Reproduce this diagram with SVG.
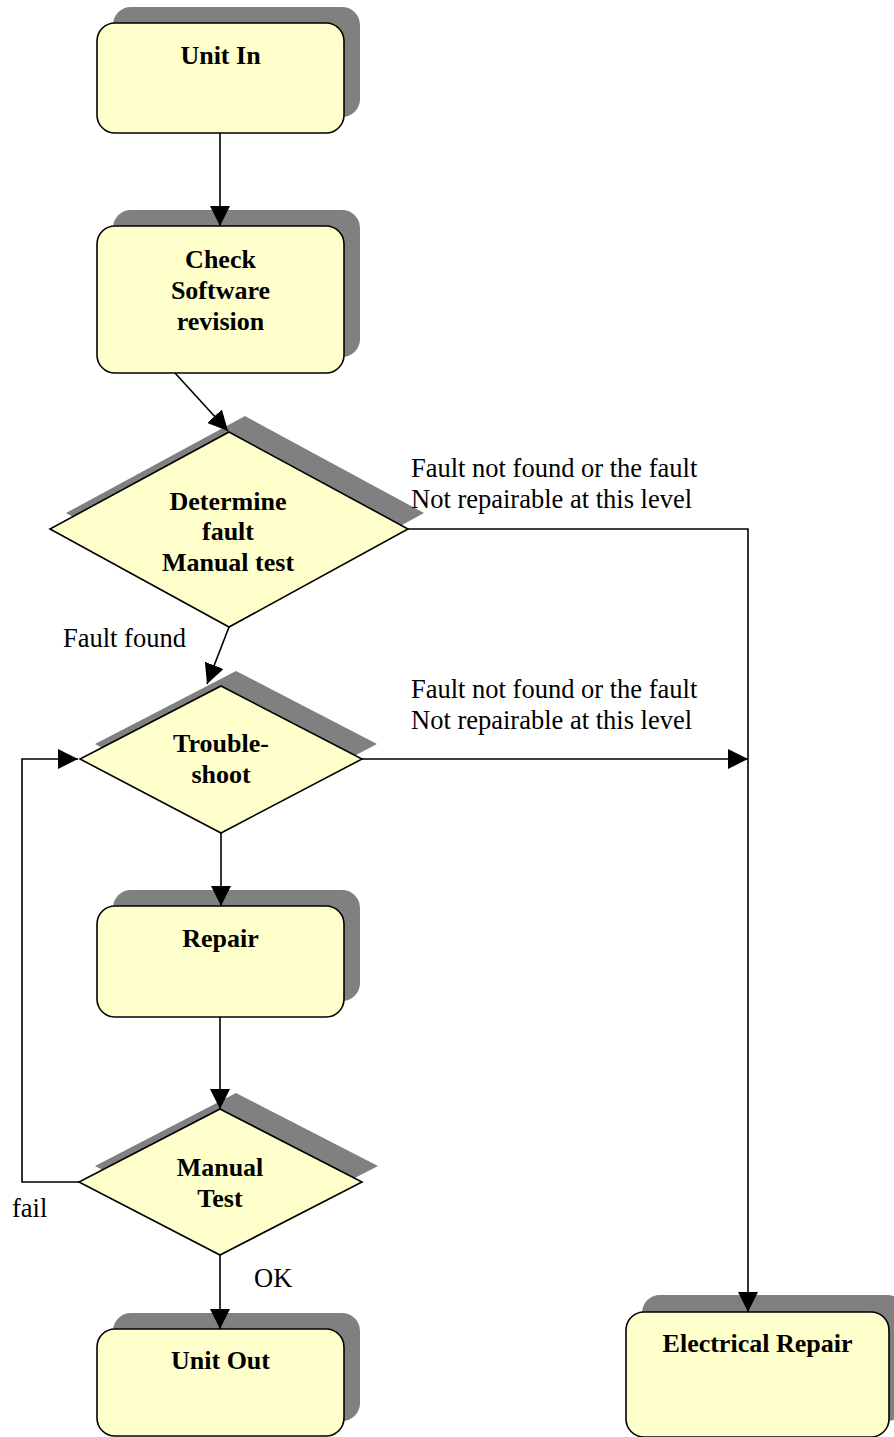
<svg xmlns="http://www.w3.org/2000/svg" width="894" height="1437" viewBox="0 0 894 1437">
<style>
.sh{fill:#808080;stroke:none}
.nd{fill:#FFFFCC;stroke:#000;stroke-width:1.6}
.lb{font-family:"Liberation Serif","Times New Roman",serif;font-weight:bold;font-size:26px;fill:#000;text-anchor:middle}
.tx{font-family:"Liberation Serif","Times New Roman",serif;font-size:26.5px;fill:#000}
.cn{fill:none;stroke:#000;stroke-width:1.6;marker-end:url(#ah)}
</style>
<defs>
<marker id="ah" markerUnits="userSpaceOnUse" markerWidth="20" markerHeight="20" refX="20" refY="10" orient="auto">
<path d="M0,0 L20,10 L0,20 z" fill="#000"/>
</marker>
</defs>
<rect width="894" height="1437" fill="#fff"/>

<g id="unit-in">
<rect class="sh" x="113" y="7" width="247" height="110" rx="18"/>
<rect class="nd" x="97" y="23" width="247" height="110" rx="18"/>
<text class="lb" x="220.5" y="64">Unit In</text>
</g>

<g id="check-software">
<rect class="sh" x="113" y="210" width="247" height="147" rx="18"/>
<rect class="nd" x="97" y="226" width="247" height="147" rx="18"/>
<text class="lb" x="220.5" y="268">Check</text>
<text class="lb" x="220.5" y="299">Software</text>
<text class="lb" x="220.5" y="330">revision</text>
</g>

<g id="determine-fault">
<polygon class="sh" points="245,416 424,513 245,611 66,513"/>
<polygon class="nd" points="229,432 408,529 229,627 50,529"/>
<text class="lb" x="228" y="510">Determine</text>
<text class="lb" x="228" y="540">fault</text>
<text class="lb" x="228" y="571">Manual test</text>
</g>

<g id="troubleshoot">
<polygon class="sh" points="236,671 377,744 236,818 95,744"/>
<polygon class="nd" points="221,686 362,759 221,833 80,759"/>
<text class="lb" x="221" y="752">Trouble-</text>
<text class="lb" x="221" y="783">shoot</text>
</g>

<g id="repair">
<rect class="sh" x="113" y="890" width="247" height="111" rx="18"/>
<rect class="nd" x="97" y="906" width="247" height="111" rx="18"/>
<text class="lb" x="220.5" y="947">Repair</text>
</g>

<g id="manual-test">
<polygon class="sh" points="236,1093 378,1166 236,1239 95,1166"/>
<polygon class="nd" points="220,1109 362,1182 220,1255 79,1182"/>
<text class="lb" x="220" y="1176">Manual</text>
<text class="lb" x="220" y="1207">Test</text>
</g>

<g id="unit-out">
<rect class="sh" x="113" y="1313" width="247" height="108" rx="18"/>
<rect class="nd" x="97" y="1329" width="247" height="107" rx="18"/>
<text class="lb" x="220.5" y="1369">Unit Out</text>
</g>

<g id="electrical-repair">
<rect class="sh" x="642" y="1295" width="263" height="126" rx="18"/>
<rect class="nd" x="626" y="1312" width="263" height="125" rx="18"/>
<text class="lb" x="757.5" y="1352">Electrical Repair</text>
</g>

<g id="connectors">
<path class="cn" d="M220,133 V226"/>
<path class="cn" d="M175,373 L228,431"/>
<path class="cn" d="M408,529 H748 V1312"/>
<path class="cn" d="M229,627 L207,684"/>
<path class="cn" d="M362,759 H748"/>
<path class="cn" d="M221,833 V906"/>
<path class="cn" d="M220,1017 V1109"/>
<path class="cn" d="M79,1182 H22 V759 H78"/>
<path class="cn" d="M220,1255 V1329"/>
</g>

<g id="labels">
<text class="tx" x="411" y="477">Fault not found or the fault</text>
<text class="tx" x="411" y="508">Not repairable at this level</text>
<text class="tx" x="411" y="698">Fault not found or the fault</text>
<text class="tx" x="411" y="729">Not repairable at this level</text>
<text class="tx" x="63" y="647">Fault found</text>
<text class="tx" x="12" y="1217">fail</text>
<text class="tx" x="254" y="1287">OK</text>
</g>
</svg>
